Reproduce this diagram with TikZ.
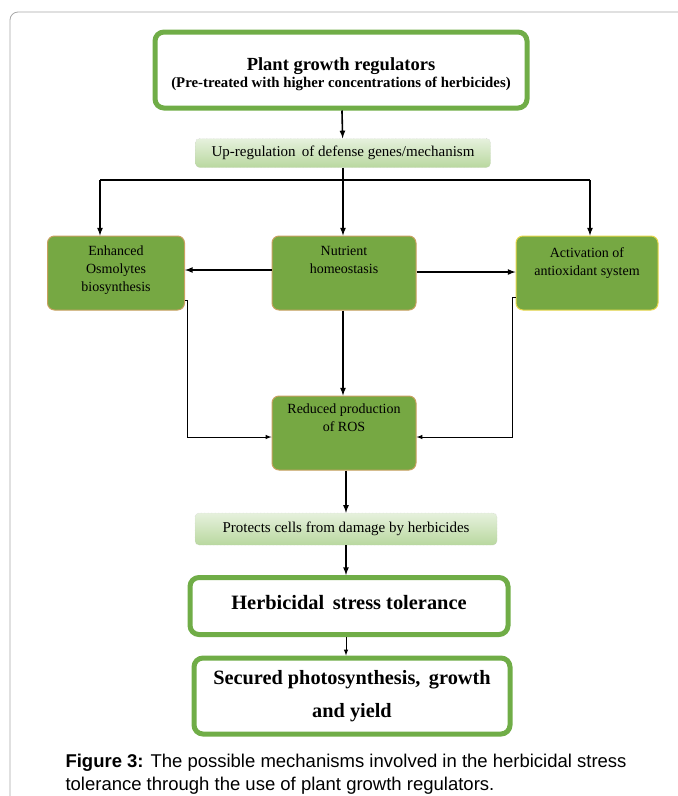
\documentclass[tikz,border=0pt]{standalone}
\usepackage{fontspec}
\setmainfont{Liberation Serif}
\newfontfamily\capfont{Liberation Sans}
\usepackage{tikz}
\usetikzlibrary{calc}
\tikzset{>=latex}
\definecolor{leaf}{HTML}{70AD47}
\definecolor{leafbox}{HTML}{76A843}
\definecolor{tanrim}{HTML}{C8A060}
\definecolor{yelrim}{HTML}{E6D64A}
\definecolor{palegreen}{HTML}{E6F1DD}
\definecolor{midgreen}{HTML}{B9D89F}
\tikzset{
  bigbox/.style={draw=leaf, line width=5pt, rounded corners=9pt, fill=white, align=center, inner sep=0pt},
  midbox/.style={top color=palegreen, bottom color=midgreen, draw=gray!45, densely dotted, rounded corners=4pt, align=center, font=\fontsize{15}{17}\selectfont},
  greenbox/.style={fill=leafbox, draw=tanrim, line width=1pt, rounded corners=7pt, minimum width=144pt, minimum height=74pt, align=center},
  boxtext/.style={anchor=north, align=center, font=\fontsize{14}{18}\selectfont},
  flow/.style={->, line width=1.6pt},
  thinflow/.style={->, line width=1pt}
}
\begin{document}
\begin{tikzpicture}[x=1pt,y=-1pt]
\useasboundingbox (0,0) rectangle (678,796);
\draw[gray!70, line width=0.8pt, rounded corners=8pt] (700,12) -- (10,12) -- (10,820);
% top part
\node (pgr) at (341,70) [bigbox, minimum width=372pt, minimum height=76pt] {};
\node[align=center] at (pgr.center) [yshift=-4pt] {{\bfseries\fontsize{18.5}{20}\selectfont Plant growth regulators}\\[2pt] {\bfseries\fontsize{14.8}{16}\selectfont (Pre-treated with higher concentrations of herbicides)}};
\node (upreg) at (343,153) [midbox, minimum width=295pt, minimum height=29pt] {Up-regulation\, of defense genes/mechanism};
\coordinate (split) at (343,180);
\coordinate (splitL) at (100,180);
\coordinate (splitR) at (590,180);
% three mechanisms
\node (osmo) at (116,273) [greenbox, minimum width=137pt] {};
\node[boxtext] at (osmo.north) [yshift=-7pt] {Enhanced\\Osmolytes\\biosynthesis};
\node (nutri) at (344,273) [greenbox] {};
\node[boxtext] at (nutri.north) [yshift=-7pt] {Nutrient\\homeostasis};
\node (antiox) at (587,273) [greenbox, draw=yelrim, minimum width=142pt] {};
\node[boxtext] at (antiox.north) [yshift=-9pt] {Activation of\\antioxidant system};
\node (ros) at (344,433) [greenbox] {};
\node[boxtext] at (ros.north) [yshift=-5pt] {Reduced production\\of ROS};
% bottom part
\node (protect) at (346,529) [midbox, minimum width=302pt, minimum height=32pt] {Protects cells from damage by herbicides};
\node (tol) at (349,606) [bigbox, minimum width=318pt, minimum height=57pt, font=\bfseries\fontsize{20.4}{22}\selectfont] {\raisebox{8pt}{Herbicidal\, stress tolerance}};
\node (yield) at (352,696) [bigbox, minimum width=316pt, minimum height=76pt, font=\bfseries\fontsize{20.3}{33}\selectfont] {Secured photosynthesis,\, growth\\and yield};
\node (caption) at (62,774) [anchor=west, align=left, font=\capfont\fontsize{18.5}{23.5}\selectfont] {\textbf{Figure 3:} The possible mechanisms involved in the herbicidal stress\\tolerance through the use of plant growth regulators.};
% connectors
\draw[flow] (pgr) -- (upreg);
\draw[line width=1.6pt] (upreg) -- (split);
\draw[line width=1.6pt] (splitL) -- (splitR);
\draw[flow] (splitL) -- (osmo.north -| splitL) ;
\draw[flow] (split) -- (nutri.north -| split);
\draw[flow] (splitR) -- (antiox.north -| splitR);
\draw[flow] (nutri.west |- 0,270) -- (osmo.east |- 0,270);
\draw[flow] (nutri.east |- 0,272) -- (antiox.west |- 0,272);
\draw[flow] (nutri.south -| 343,0) -- (ros.north -| 343,0);
\draw[thinflow] (osmo.east |- 0,300) -- (187,300) -- (187,437) -- (ros.west |- 0,437);
\draw[thinflow] (antiox.west |- 0,297) -- (512,297) -- (512,437) -- (ros.east |- 0,437);
\draw[flow] (ros.south -| 346,0) -- (protect.north -| 346,0);
\draw[flow] (protect.south -| 346,0) -- (tol.north -| 346,0);
\draw[thinflow] (tol.south -| 346,0) -- (yield.north -| 346,0);
\end{tikzpicture}
\end{document}
